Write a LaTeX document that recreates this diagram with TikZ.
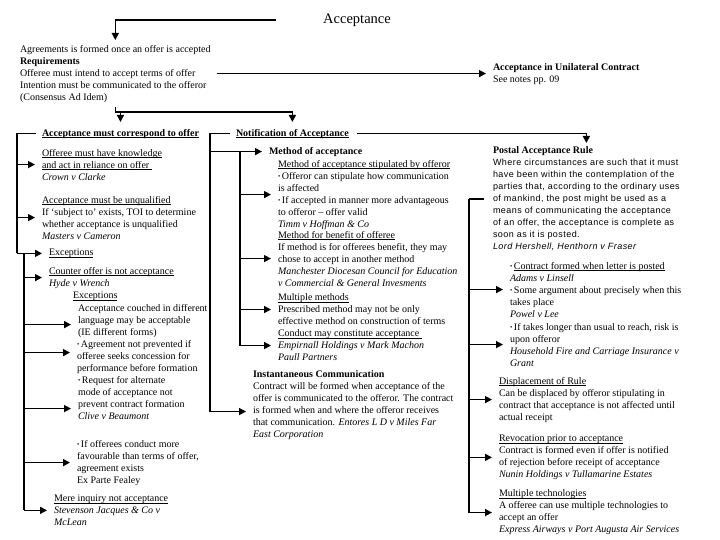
\documentclass[tikz,border=0pt]{standalone}
\usepackage{fontspec}
\setmainfont{Liberation Serif}
\newfontfamily\postalfont[LetterSpace=5]{Liberation Sans}
\usetikzlibrary{arrows.meta}
\newcommand\undl[1]{\underline{\smash{#1}}\vphantom{#1}}
\newcommand\bul{{\fontsize{6.5}{6}\selectfont\raisebox{1pt}{\textbullet}}\,}
\newcommand\pl{\postalfont\fontsize{9}{12}\selectfont}

\begin{document}
\begin{tikzpicture}[
  x=1pt, y=-1pt,
  txt/.style={anchor=north west, inner sep=0pt, outer sep=0pt, align=left,
    font=\fontsize{10}{12}\selectfont},
  ln/.style={line width=1.5pt},
  arr/.style={ln, -{Triangle[length=7pt,width=7pt]}, shorten >=7pt}]
\useasboundingbox (0,0) rectangle (720,540);
\node[inner sep=0pt, font=\fontsize{14.5}{16}\selectfont] (title) at (357,20) {Acceptance};
\node[txt] (topblk) at (20,45) {Agreements is formed once an offer is accepted\\
  \textbf{Requirements}\\
  Offeree must intend to accept terms of offer\\
  Intention must be communicated to the offeror\\
  (Consensus Ad Idem)};
\node[txt] (unil) at (493,64) {\textbf{Acceptance in Unilateral Contract}\\See notes pp. 09};
\node[txt] (corr) at (42,129) {\textbf{\undl{Acceptance must correspond to offer}}};
\node[txt] (notif) at (236,129) {\textbf{\undl{Notification of Acceptance}}};
% left column
\node[txt] (knowl) at (42,149) {\undl{Offeree must have knowledge}\\
  \undl{and act in reliance on offer }\\\textit{Crown v Clarke}};
\node[txt] (unqual) at (42,196) {\undl{Acceptance must be unqualified}\\
  If ‘subject to’ exists, TOI to determine\\
  whether acceptance is unqualified\\\textit{Masters v Cameron}};
\node[txt] (exc1) at (49,249) {\undl{Exceptions}};
\node[txt] (counter) at (49,267) {\undl{Counter offer is not acceptance}\\\textit{Hyde v Wrench}};
\node[txt] (exc2) at (73,292) {\undl{Exceptions}};
\node[txt] (couched) at (78,304) {Acceptance couched in different\\
  language may be acceptable\\(IE different forms)};
\node[txt] (concess) at (77,340) {\bul Agreement not prevented if\\
  offeree seeks concession for\\performance before formation};
\node[txt] (altmode) at (78,376) {\bul Request for alternate\\
  mode of acceptance not\\prevent contract formation\\\textit{Clive v Beaumont}};
\node[txt] (conduct) at (77,440) {\bul If offerees conduct more\\
  favourable than terms of offer,\\agreement exists\\Ex Parte Fealey};
\node[txt] (inquiry) at (54,495) {\undl{Mere inquiry not acceptance}\\
  \textit{Stevenson Jacques \& Co v}\\\textit{McLean}};
% middle column
\node[txt] (method) at (269,147) {\textbf{Method of acceptance}};
\node[txt] (stip) at (278,160) {\undl{Method of acceptance stipulated by offeror}\\
  \bul Offeror can stipulate how communication\\
  is affected\\
  \bul If accepted in manner more advantageous\\
  to offeror – offer valid\\
  \textit{Timm v Hoffman \& Co}};
\node[txt] (benefit) at (278,231) {\undl{Method for benefit of offeree}\\
  If method is for offerees benefit, they may\\
  chose to accept in another method\\
  \textit{Manchester Diocesan Council for Education}\\
  \textit{v Commercial \& General Invesments}};
\node[txt] (multi) at (278,294) {\undl{Multiple methods}\\
  Prescribed method may not be only\\
  effective method on construction of terms};
\node[txt] (conductm) at (278,330) {\undl{Conduct may constitute acceptance }\\
  \textit{Empirnall Holdings v Mark Machon}\\\textit{Paull Partners}};
\node[txt] (instant) at (253,371) {\textbf{Instantaneous Communication}\\
  Contract will be formed when acceptance of the\\
  offer is communicated to the offeror. The contract\\
  is formed when and where the offeror receives\\
  that communication. \textit{Entores L D v Miles Far}\\
  \textit{East Corporation}};
% right column
\node[txt] (postal) at (493,147) {\textbf{Postal Acceptance Rule}\\
  {\pl Where circumstances are such that it must}\\
  {\pl have been within the contemplation of the}\\
  {\pl parties that, according to the ordinary uses}\\
  {\pl of mankind, the post might be used as a}\\
  {\pl means of communicating the acceptance}\\
  {\pl of an offer, the acceptance is complete as}\\
  {\pl soon as it is posted.}\\
  {\pl\itshape Lord Hershell, Henthorn v Fraser}};
\node[txt] (letter) at (510,262) {\bul\undl{Contract formed when letter is posted}\\
  \textit{Adams v Linsell}\\
  \bul Some argument about precisely when this\\
  takes place\\\textit{Powel v Lee}};
\node[txt] (longer) at (510,323) {\bul If takes longer than usual to reach, risk is\\
  upon offeror\\
  \textit{Household Fire and Carriage Insurance v}\\\textit{Grant}};
\node[txt] (displace) at (499,377) {\undl{Displacement of Rule}\\
  Can be displaced by offeror stipulating in\\
  contract that acceptance is not affected until\\actual receipt};
\node[txt] (revoc) at (499,435) {\undl{Revocation prior to acceptance}\\
  Contract is formed even if offer is notified\\
  of rejection before receipt of acceptance\\
  \textit{Nunin Holdings v Tullamarine Estates}};
\node[txt] (tech) at (499,490) {\undl{Multiple technologies}\\
  A offeree can use multiple technologies to\\
  accept an offer\\
  \textit{Express Airways v Port Augusta Air Services}};

\coordinate (split) at ([yshift=-10pt]topblk.south);
\coordinate (busA) at (17,0);
\coordinate (busB) at (24,0);
\coordinate (busC) at (210,0);
\coordinate (busD) at (240,0);
\coordinate (busE) at (469,0);
\coordinate (couchedin) at ([yshift=-4pt]couched.west);
\coordinate (concessin) at ([yshift=4pt]concess.west);
\coordinate (altmodein) at ([yshift=-11pt]altmode.west);
\coordinate (instantin) at ([yshift=-6pt]instant.west);

\draw[arr, shorten <=47pt, shorten >=5pt] (title.west) -| (topblk.north);
\draw[arr, shorten <=6pt] (topblk.east) -- (topblk.east -| unil.west);
\draw[ln, shorten <=5pt] (topblk.south) -- (split);
\draw[arr] (split) -| (corr.north);
\draw[arr] (split) -| (notif.north);
\draw[arr, shorten <=8pt, shorten >=4pt] (notif.east) -| (postal.north);

\draw[ln, shorten <=6pt] (corr.west) -- (corr.west -| busA) -- (busA |- exc1.west);
\draw[arr] (busA |- knowl.west) -- (knowl.west);
\draw[arr] (busA |- unqual.west) -- (unqual.west);
\draw[arr] (busA |- exc1.west) -- (exc1.west);
\draw[ln] (busB |- exc1.west) -- (busB |- inquiry.west);
\draw[arr] (busB |- counter.west) -- (counter.west);
\draw[arr] (busB |- couchedin) -- (couchedin);
\draw[arr] (busB |- concessin) -- (concessin);
\draw[arr] (busB |- altmodein) -- (altmodein);
\draw[arr] (busB |- conduct.west) -- (conduct.west);
\draw[arr] (busB |- inquiry.west) -- (inquiry.west);

\draw[ln, shorten <=6pt] (notif.west) -- (notif.west -| busC) -- (busC |- instantin);
\draw[arr] (busC |- method.west) -- (method.west);
\draw[arr] (busC |- instantin) -- (instantin);
\draw[ln] (busD |- method.west) -- (busD |- conductm.west);
\draw[arr] (busD |- stip.west) -- (stip.west);
\draw[arr] (busD |- benefit.west) -- (benefit.west);
\draw[arr] (busD |- multi.west) -- (multi.west);
\draw[arr] (busD |- conductm.west) -- (conductm.west);

\draw[ln, shorten >=9pt] (busE |- postal.west) -- (postal.west);
\draw[ln] (busE |- postal.west) -- (busE |- tech.west);
\draw[arr] (busE |- letter.west) -- (letter.west);
\draw[arr] (busE |- longer.west) -- (longer.west);
\draw[arr] (busE |- displace.west) -- (displace.west);
\draw[arr] (busE |- revoc.west) -- (revoc.west);
\draw[arr] (busE |- tech.west) -- (tech.west);
\end{tikzpicture}
\end{document}
